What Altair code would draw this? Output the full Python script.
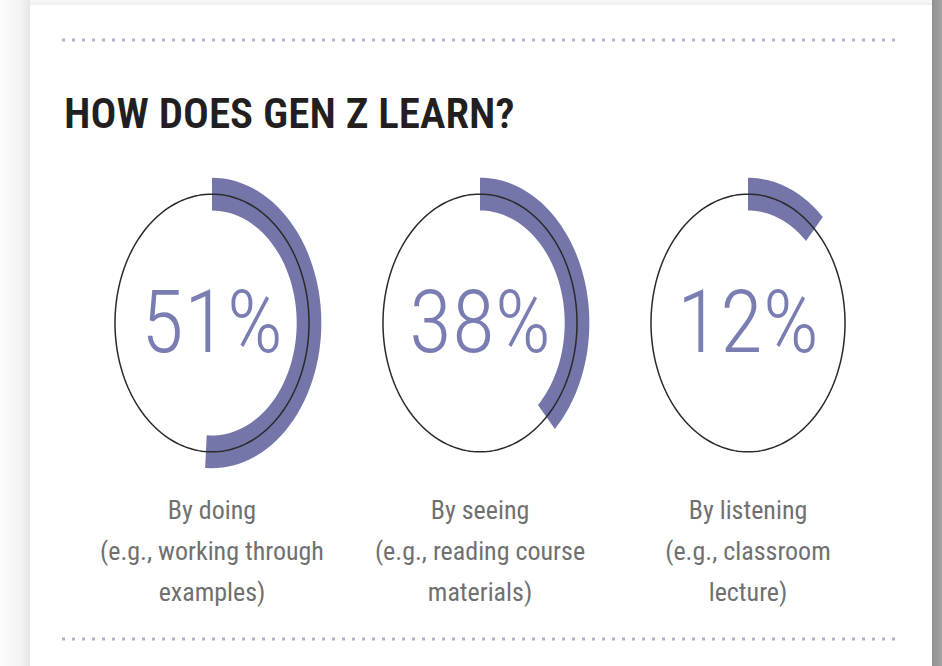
import altair as alt
import pandas as pd

# ---- data ----
title_text = "HOW DOES GEN Z LEARN?"
categories = ["By doing", "By seeing", "By listening"]
values = [51, 38, 12]
labels = [
    "By doing\n(e.g., working through\nexamples)",
    "By seeing\n(e.g., reading course\nmaterials)",
    "By listening\n(e.g., classroom\nlecture)",
]

df = pd.DataFrame({
    "category": categories,
    "value": values,
    "label": labels,
    "i": list(range(len(categories))),
})

# ---- layout / style ----
W, H = 942, 666
SX, SY = 268.0, 356.0          # pixels per data unit (x, y)
CX0, CY = 212.0, 323.0         # pixel centre of first donut
xs = alt.Scale(domain=[-CX0 / SX, (W - CX0) / SX], nice=False, zero=False)
ys = alt.Scale(domain=[-(H - CY) / SY, CY / SY], nice=False, zero=False)

R_RING, R_OUT, R_IN = 0.362, 0.408, 0.316
BAND = "#7476a9"
PCT = "#7a7db2"
LABEL = "#707070"
DOT = "#b1b1d0"
COND = "Roboto Condensed, Liberation Sans Narrow, DejaVu Sans Condensed, sans-serif"

base = alt.Chart(df)
deco = alt.Chart(alt.Data(values=[{"d": 0}]))

# shadows around the card
left_shadow = deco.mark_rect(
    fill=alt.LinearGradient(gradient="linear", x1=0, x2=1, y1=0, y2=0,
                            stops=[alt.GradientStop(color="#fcfcfc", offset=0),
                                   alt.GradientStop(color="#f3f3f3", offset=0.7),
                                   alt.GradientStop(color="#e6e6e6", offset=1)])
).encode(x=alt.value(0), x2=alt.value(30), y=alt.value(0), y2=alt.value(H))
top_shadow = deco.mark_rect(
    fill=alt.LinearGradient(gradient="linear", x1=0, x2=0, y1=0, y2=1,
                            stops=[alt.GradientStop(color="#f9f9f9", offset=0),
                                   alt.GradientStop(color="#eeeeee", offset=1)])
).encode(x=alt.value(30), x2=alt.value(932), y=alt.value(0), y2=alt.value(5))
right_shadow = deco.mark_rect(
    fill=alt.LinearGradient(gradient="linear", x1=0, x2=1, y1=0, y2=0,
                            stops=[alt.GradientStop(color="#8f8f8f", offset=0),
                                   alt.GradientStop(color="#a5a5a5", offset=1)])
).encode(x=alt.value(932), x2=alt.value(W), y=alt.value(0), y2=alt.value(H))

# dotted rules
dots_top = deco.mark_rule(color=DOT, strokeWidth=3, strokeDash=[3, 7]).encode(
    x=alt.value(62), x2=alt.value(897), y=alt.value(40))
dots_bottom = deco.mark_rule(color=DOT, strokeWidth=3, strokeDash=[3, 7]).encode(
    x=alt.value(62), x2=alt.value(897), y=alt.value(639))

# title
title = deco.mark_text(
    text=title_text, align="left", baseline="alphabetic",
    font=COND, fontSize=43, fontWeight=600, color="#231f20"
).encode(x=alt.value(64), y=alt.value(128))

# progress band (filled closed polygon built from each value)
band = base.transform_calculate(
    k="sequence(0, 122)"
).transform_flatten(["k"]).transform_calculate(
    th="datum.value / 100 * 2 * PI",
    a="datum.k <= 60 ? datum.th * datum.k / 60 : datum.th * (121 - datum.k) / 60",
    r=f"datum.k <= 60 ? {R_OUT} : {R_IN}",
    px="datum.i + datum.r * sin(datum.a)",
    py="datum.r * cos(datum.a)",
).mark_line(filled=True, interpolate="linear-closed", color=BAND, strokeWidth=0).encode(
    x=alt.X("px:Q", scale=xs, axis=None),
    y=alt.Y("py:Q", scale=ys, axis=None),
    detail="category:N",
    order="k:Q",
)

# thin outline ring
ring = base.transform_calculate(
    k="sequence(0, 181)"
).transform_flatten(["k"]).transform_calculate(
    a="datum.k * PI / 90",
    px=f"datum.i + {R_RING} * sin(datum.a)",
    py=f"{R_RING} * cos(datum.a)",
).mark_line(color="#2a2a2a", strokeWidth=1.5).encode(
    x=alt.X("px:Q", scale=xs, axis=None),
    y=alt.Y("py:Q", scale=ys, axis=None),
    detail="category:N",
    order="k:Q",
)

# percentage text
pct = base.transform_calculate(pct="datum.value + '%'").mark_text(
    font="Roboto Condensed, Lato, sans-serif", fontWeight=300, fontSize=88,
    color=PCT, align="center", baseline="middle", dy=3
).encode(
    x=alt.X("i:Q", scale=xs, axis=None),
    y=alt.datum(0, scale=ys),
    text="pct:N",
)

# labels under each donut
lab = base.mark_text(
    font=COND, fontSize=26, fontWeight=400, color=LABEL, align="center",
    baseline="alphabetic", lineBreak="\n", lineHeight=41
).encode(
    x=alt.X("i:Q", scale=xs, axis=None),
    y=alt.value(519),
    text="label:N",
)

chart = alt.layer(
    left_shadow, top_shadow, right_shadow, dots_top, dots_bottom, title,
    band, ring, pct, lab
).properties(
    width=W, height=H, padding=0, background="white",
    autosize=alt.AutoSizeParams(type="none")
).configure_view(stroke=None)

chart.save("out.html", embed_options={"renderer": "svg", "actions": False})
